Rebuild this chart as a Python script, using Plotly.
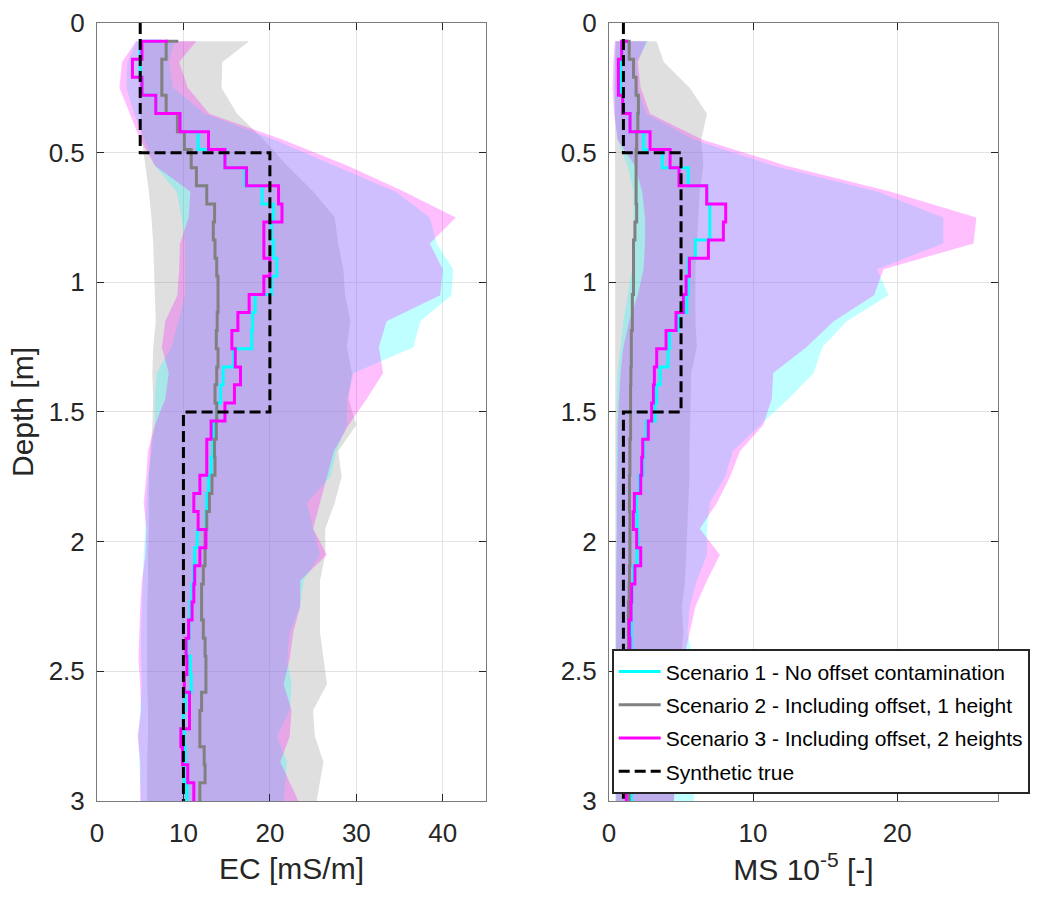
import plotly.graph_objects as go

# ---------------- data ----------------
# layer boundary depths (m) used by the stair-step inversion profiles
layer_depth = [0.070, 0.140, 0.209, 0.279, 0.349, 0.419, 0.488, 0.558, 0.628, 0.698,
               0.767, 0.837, 0.907, 0.977, 1.047, 1.116, 1.186, 1.256, 1.326, 1.395,
               1.465, 1.535, 1.605, 1.674, 1.744, 1.814, 1.884, 1.953, 2.023, 2.093,
               2.163, 2.233, 2.302, 2.372, 2.442, 2.512, 2.581, 2.651, 2.721, 2.791,
               2.860, 2.930, 3.000]

# EC profiles (mS/m)
ec_s1 = [7.5, 5.0, 5.0, 5.2, 6.8, 9.6, 11.7, 14.8, 17.1, 19.1, 20.4, 20.2, 20.4, 20.8, 20.2,
         18.3, 18.0, 17.9, 15.8, 14.6, 14.3, 13.85, 13.5, 13.4, 13.2, 12.9, 12.7, 12.6, 11.6,
         11.3, 11.15, 11.0, 10.8, 10.65, 10.4, 10.8, 10.9, 10.2, 10.0, 10.1, 10.2, 10.1, 10.4]
ec_s2 = [9.4, 8.0, 7.5, 7.5, 8.0, 9.3, 10.1, 10.9, 11.5, 12.7, 13.6, 13.45, 13.65, 13.85, 14.0,
         14.0, 13.9, 13.8, 14.0, 13.85, 13.65, 13.85, 13.8, 13.6, 13.65, 13.3, 13.0, 12.7, 12.5,
         12.5, 12.3, 12.1, 12.1, 12.3, 12.5, 12.6, 12.6, 12.1, 11.9, 11.9, 12.4, 12.5, 11.9]
ec_s3 = [8.2, 5.2, 4.1, 5.2, 6.8, 9.6, 12.9, 14.8, 17.3, 21.0, 21.4, 19.3, 19.3, 20.0, 19.3,
         17.6, 16.3, 15.6, 16.0, 16.6, 15.9, 14.8, 13.2, 12.7, 12.7, 11.9, 11.2, 11.7, 12.6,
         11.9, 11.3, 11.2, 11.0, 10.6, 10.3, 10.4, 10.1, 10.7, 10.7, 9.7, 9.9, 10.5, 11.2]

# MS profiles (10^-5)
ms_s1 = [1.2, 0.9, 0.8, 0.8, 0.95, 1.46, 2.4, 3.7, 5.5, 6.8, 7.0, 7.0, 6.0, 5.5, 5.5,
         5.4, 4.8, 4.2, 4.1, 3.55, 3.3, 3.2, 2.6, 2.4, 2.35, 2.1, 1.9, 1.95, 2.0,
         1.95, 1.7, 1.6, 1.55, 1.55, 1.55, 1.55, 1.55, 1.55, 1.55, 1.55, 1.55, 1.55, 1.55]
ms_s2 = [1.0, 1.4, 1.7, 1.88, 2.04, 2.0, 1.92, 1.88, 1.88, 1.88, 1.92, 1.8, 1.7, 1.7, 1.7,
         1.62, 1.62, 1.55, 1.55, 1.52, 1.5, 1.5, 1.5, 1.45, 1.45, 1.42, 1.42, 1.45, 1.45,
         1.45, 1.42, 1.4, 1.35, 1.35, 1.35, 1.35, 1.35, 1.35, 1.35, 1.35, 1.4, 1.4, 1.4]
ms_s3 = [1.3, 0.88, 0.65, 0.65, 0.95, 1.46, 2.85, 4.24, 4.86, 6.78, 8.1, 7.94, 6.9, 5.58, 5.35,
         5.16, 4.65, 3.96, 3.31, 3.15, 3.08, 2.96, 2.73, 2.34, 2.27, 2.2, 1.76, 1.69, 1.92,
         2.2, 1.8, 1.57, 1.53, 1.41, 1.45, 1.4, 1.35, 1.35, 1.3, 1.3, 1.25, 1.25, 1.2]

# synthetic true model
true_depth = [0.0, 0.5, 1.5, 3.0]
true_ec = [5, 20, 10, 10]
true_ms = [1, 5, 1, 1]

# uncertainty envelopes
band_depth = [0.07, 0.15, 0.25, 0.35, 0.45, 0.55, 0.65, 0.75, 0.85, 0.95, 1.05, 1.15, 1.25,
              1.35, 1.45, 1.55, 1.65, 1.75, 1.85, 1.95, 2.05, 2.15, 2.25, 2.35, 2.45, 2.55,
              2.65, 2.75, 2.85, 3.0]

ec_s1_lo = [4.6, 3.5, 3.4, 4.3, 5.5, 6.7, 9.2, 9.8, 10.2, 10.2, 10.2, 9.4, 8.6, 6.9, 6.7,
            6.7, 6.3, 5.9, 5.7, 5.6, 5.4, 5.3, 5.2, 5.1, 5.1, 5.2, 5.0, 4.8, 4.9, 5.1]
ec_s1_hi = [9.0, 8.3, 8.8, 12.5, 20.5, 27.5, 34.5, 38.5, 39.3, 41.2, 41.0, 37.4, 36.6, 29.7,
            28.9, 28.9, 27.7, 27.0, 24.3, 25.0, 25.8, 23.9, 23.5, 22.3, 22.0, 22.5, 22.3,
            20.8, 22.0, 21.6]
ec_s2_lo = [5.5, 5.0, 4.8, 5.0, 5.2, 5.6, 6.0, 6.3, 6.5, 6.6, 6.7, 6.8, 6.5, 6.4, 6.5,
            6.4, 6.2, 6.0, 6.0, 6.0, 5.9, 5.9, 5.8, 5.8, 5.8, 5.8, 5.9, 5.9, 5.8, 5.8]
ec_s2_hi = [17.6, 14.5, 14.4, 16.2, 19.3, 22.0, 25.0, 27.5, 27.9, 28.5, 28.7, 29.3, 28.9,
            29.5, 29.1, 30.0, 27.9, 28.3, 27.5, 26.4, 26.4, 25.8, 25.8, 25.8, 26.2, 26.6,
            25.0, 25.2, 26.2, 25.4]
ec_s3_lo = [4.5, 2.9, 2.6, 3.8, 5.0, 6.7, 10.8, 10.6, 9.6, 9.5, 9.3, 7.9, 7.5, 8.3, 7.9,
            6.7, 5.9, 5.7, 5.4, 5.7, 5.6, 5.2, 5.0, 4.9, 4.8, 5.0, 5.1, 4.7, 5.0, 5.0]
ec_s3_hi = [11.5, 9.5, 10.5, 13.0, 21.5, 29.0, 35.5, 41.5, 38.5, 40.0, 39.7, 33.5, 32.6,
            33.1, 31.2, 29.1, 27.4, 26.6, 25.8, 25.0, 26.6, 23.5, 23.5, 22.7, 22.3, 21.6,
            22.5, 22.3, 21.2, 23.3]

ms_s1_lo = [0.5, 0.4, 0.35, 0.4, 0.6, 1.3, 1.7, 1.7, 1.8, 1.6, 1.3, 1.0, 0.8, 0.6, 0.55,
            0.5, 0.5, 0.5, 0.5, 0.48, 0.45, 0.45, 0.45, 0.45, 0.45, 0.45, 0.45, 0.45, 0.45, 0.45]
ms_s1_hi = [2.7, 1.9, 2.0, 2.6, 5.9, 11.4, 18.6, 23.2, 23.2, 18.6, 19.4, 16.5, 14.8, 14.2,
            12.45, 10.5, 8.6, 8.05, 7.0, 6.8, 6.8, 6.1, 5.6, 5.45, 5.8, 5.8, 5.8, 5.8, 5.8, 5.9]
ms_s2_lo = [0.45, 0.42, 0.42, 0.42, 0.42, 0.42, 0.42, 0.42, 0.42, 0.42, 0.42, 0.42, 0.42,
            0.45, 0.45, 0.45, 0.45, 0.45, 0.45, 0.45, 0.45, 0.45, 0.45, 0.45, 0.45, 0.45,
            0.45, 0.45, 0.45, 0.45]
ms_s2_hi = [3.3, 3.8, 5.6, 6.8, 6.4, 6.55, 6.3, 6.2, 6.1, 6.0, 6.0, 6.0, 6.1, 5.7, 5.67,
            5.6, 5.58, 5.58, 5.5, 5.44, 5.35, 5.28, 5.05, 5.16, 5.0, 4.9, 4.8, 4.7, 4.6, 4.5]
ms_s3_lo = [0.4, 0.3, 0.25, 0.35, 0.6, 1.8, 2.3, 2.5, 2.5, 2.4, 2.0, 1.4, 1.0, 0.8, 0.7,
            0.6, 0.6, 0.55, 0.55, 0.55, 0.5, 0.5, 0.5, 0.5, 0.5, 0.5, 0.5, 0.5, 0.5, 0.5]
ms_s3_hi = [2.6, 2.0, 2.2, 2.85, 6.5, 12.3, 19.5, 25.5, 25.3, 19.05, 18.4, 15.6, 13.7, 11.4,
            11.3, 10.7, 9.1, 8.4, 7.5, 6.3, 7.7, 6.8, 6.0, 5.6, 5.2, 5.0, 4.9, 4.8, 4.7, 4.5]

names = ["Scenario 1 - No offset contamination",
         "Scenario 2 - Including offset, 1 height",
         "Scenario 3 - Including offset, 2 heights",
         "Synthetic true"]

# ---------------- styling ----------------
LINE_COL = {"s1": "#00FFFF", "s2": "#808080", "s3": "#FF00FF"}
FILL_COL = {"s1": "rgba(0,255,255,0.25)", "s2": "rgba(128,128,128,0.25)",
            "s3": "rgba(255,0,255,0.25)"}
FONT = "Liberation Sans, Arial, Helvetica, sans-serif"
TXT = "#262626"

fig = go.Figure()


def band(lo, hi, key, xa, ya):
    fig.add_trace(go.Scatter(
        x=list(lo) + list(hi[::-1]), y=list(band_depth) + list(band_depth[::-1]),
        fill="toself", fillcolor=FILL_COL[key], mode="lines", line=dict(width=0),
        hoverinfo="skip", showlegend=False, xaxis=xa, yaxis=ya))


def stair(vals, key, name, show, xa, ya):
    fig.add_trace(go.Scatter(
        x=vals, y=layer_depth, mode="lines", line=dict(color=LINE_COL[key], width=3, shape="hv"),
        name=name, legendgroup=key, showlegend=show, xaxis=xa, yaxis=ya))


for (xa, ya, b, lines, tru, first) in [
    ("x", "y", [(ec_s2_lo, ec_s2_hi, "s2"), (ec_s1_lo, ec_s1_hi, "s1"), (ec_s3_lo, ec_s3_hi, "s3")],
     [(ec_s1, "s1"), (ec_s2, "s2"), (ec_s3, "s3")], true_ec, True),
    ("x2", "y2", [(ms_s2_lo, ms_s2_hi, "s2"), (ms_s1_lo, ms_s1_hi, "s1"), (ms_s3_lo, ms_s3_hi, "s3")],
     [(ms_s1, "s1"), (ms_s2, "s2"), (ms_s3, "s3")], true_ms, False)]:
    for lo, hi, key in b:
        band(lo, hi, key, xa, ya)
    for vals, key in lines:
        idx = {"s1": 0, "s2": 1, "s3": 2}[key]
        stair(vals, key, names[idx], first, xa, ya)
    fig.add_trace(go.Scatter(
        x=tru, y=true_depth, mode="lines",
        line=dict(color="black", width=3, dash="11px,5px", shape="vh"),
        name=names[3], legendgroup="true", showlegend=first, xaxis=xa, yaxis=ya))

ydom = [0.10901, 0.97442]
axis_common = dict(
    showline=True, linecolor="#7a7a7a", linewidth=1, mirror="ticks",
    ticks="inside", ticklen=7, tickwidth=1, tickcolor=TXT,
    showgrid=True, gridcolor="#e3e3e3", gridwidth=1, zeroline=False,
    tickfont=dict(family=FONT, size=26, color=TXT),
)
ytick_vals = [0, 0.5, 1, 1.5, 2, 2.5, 3]
ytick_text = ["0", "0.5", "1", "1.5", "2", "2.5", "3"]

fig.update_layout(
    width=1038, height=899,
    margin=dict(l=0, r=0, t=0, b=0),
    paper_bgcolor="white", plot_bgcolor="white",
    font=dict(family=FONT, color=TXT),
    xaxis=dict(domain=[0.09345, 0.46821], range=[0, 45], tickvals=[0, 10, 20, 30, 40],
               anchor="y", ticklabelstandoff=9,
               title=dict(text="EC [mS/m]", font=dict(family=FONT, size=30, color=TXT), standoff=10),
               automargin=False, **axis_common),
    yaxis=dict(domain=ydom, range=[3, 0], tickvals=ytick_vals, ticktext=ytick_text,
               anchor="x", ticklabelstandoff=6,
               title=dict(text="Depth [m]", font=dict(family=FONT, size=30, color=TXT), standoff=6),
               automargin=False, **axis_common),
    xaxis2=dict(domain=[0.58671, 0.96146], range=[0, 27], tickvals=[0, 10, 20],
                anchor="y2", ticklabelstandoff=9,
                title=dict(text="MS 10<sup>-5</sup> [-]", font=dict(family=FONT, size=30, color=TXT), standoff=10),
                automargin=False, **axis_common),
    yaxis2=dict(domain=ydom, range=[3, 0], tickvals=ytick_vals, ticktext=ytick_text,
                anchor="x2", ticklabelstandoff=6, automargin=False, **axis_common),
    legend=dict(x=0.5893, y=0.2778, xanchor="left", yanchor="top",
                bgcolor="white", bordercolor="#262626", borderwidth=2,
                font=dict(family=FONT, size=21, color="black"),
                itemwidth=42, tracegroupgap=3, traceorder="grouped"),
    showlegend=True,
)

fig.write_html("out.html")
